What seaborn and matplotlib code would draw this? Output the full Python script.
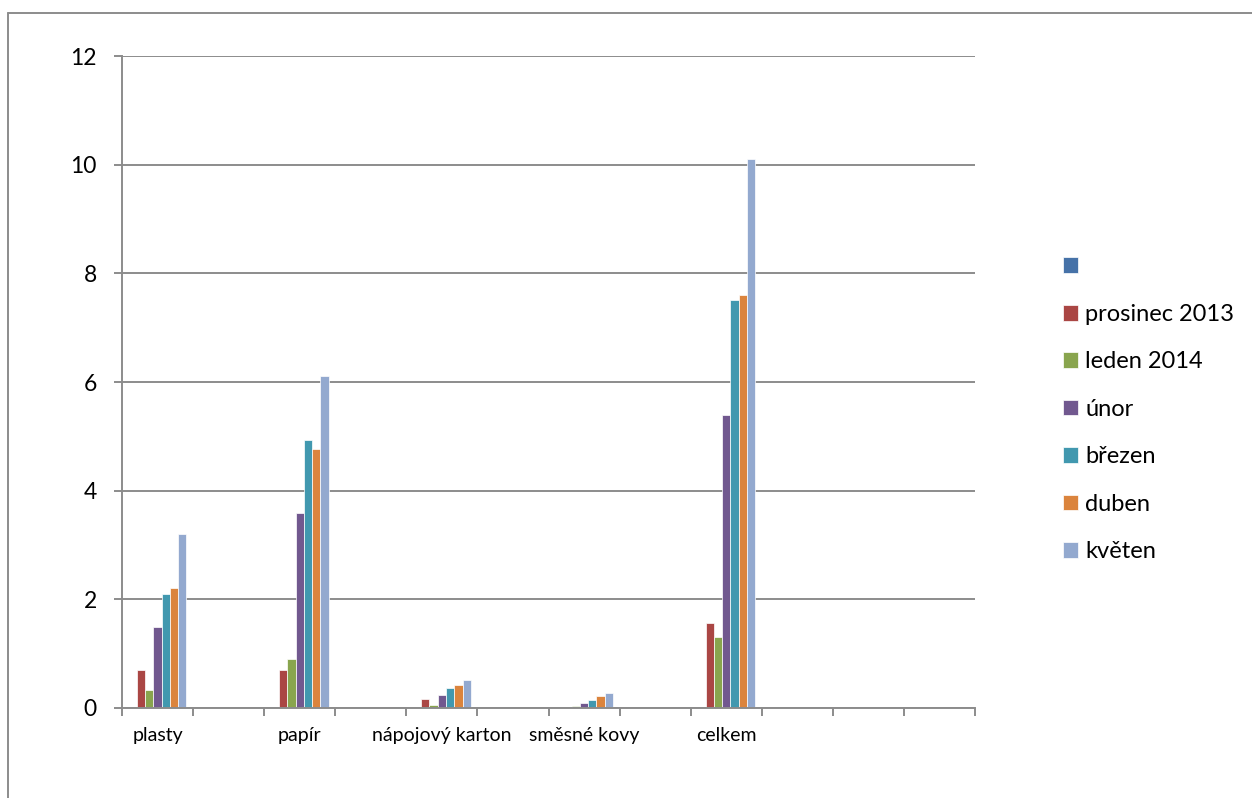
import numpy as np
import pandas as pd
import seaborn as sns
import matplotlib.pyplot as plt
from matplotlib.lines import Line2D

# categories (Excel sheet had empty rows in between)
categories = ['plasty', '', 'papír', '', 'nápojový karton', '', 'směsné kovy', '',
              'celkem', '', '', '']
series = [' ', 'prosinec 2013', 'leden 2014', 'únor', 'březen', 'duben', 'květen']

blank = [0, np.nan, 0, np.nan, 0, np.nan, 0, np.nan, 0, np.nan, np.nan, np.nan]
prosinec = [0.70, np.nan, 0.70, np.nan, 0.16, np.nan, 0.00, np.nan, 1.56, np.nan, np.nan, np.nan]
leden = [0.33, np.nan, 0.90, np.nan, 0.05, np.nan, 0.04, np.nan, 1.30, np.nan, np.nan, np.nan]
unor = [1.49, np.nan, 3.59, np.nan, 0.23, np.nan, 0.10, np.nan, 5.39, np.nan, np.nan, np.nan]
brezen = [2.09, np.nan, 4.93, np.nan, 0.37, np.nan, 0.15, np.nan, 7.51, np.nan, np.nan, np.nan]
duben = [2.21, np.nan, 4.76, np.nan, 0.43, np.nan, 0.22, np.nan, 7.60, np.nan, np.nan, np.nan]
kveten = [3.20, np.nan, 6.11, np.nan, 0.52, np.nan, 0.28, np.nan, 10.10, np.nan, np.nan, np.nan]

colors = ['#4672A8', '#AA4644', '#89A54E', '#71588F', '#4198AF', '#DB843D', '#93A9CF']

keys = ['c%d' % i for i in range(len(categories))]
rows = []
for name, vals in zip(series, [blank, prosinec, leden, unor, brezen, duben, kveten]):
    for k, v in zip(keys, vals):
        rows.append({'kat': k, 'serie': name, 'hodnota': v})
df = pd.DataFrame(rows)

sns.set_style('white')
plt.rcParams['font.family'] = ['Lato', 'DejaVu Sans']
plt.rcParams['text.color'] = 'black'
plt.rcParams['xtick.labelcolor'] = 'black'
plt.rcParams['ytick.labelcolor'] = 'black'

fig = plt.figure(figsize=(12.52, 7.98), dpi=100)
ax = fig.add_axes([0.0974, 0.1128, 0.6814, 0.817])

sns.barplot(data=df, x='kat', y='hodnota', hue='serie', order=keys, hue_order=series,
            palette=colors, width=0.815, saturation=1, ax=ax,
            edgecolor='white', linewidth=0.5)

grid_c = '#8C8C8C'
ax.set_xlim(-0.5, len(keys) - 0.5)
ax.set_ylim(0, 12)
ax.set_yticks(range(0, 13, 2))
ax.grid(axis='y', color=grid_c, linewidth=1.4)
ax.set_axisbelow(True)
ax.set_xlabel('')
ax.set_ylabel('')

for s in ['top', 'right']:
    ax.spines[s].set_visible(False)
for s in ['left', 'bottom']:
    ax.spines[s].set_color(grid_c)
    ax.spines[s].set_linewidth(1.4)

ax.set_xticks(range(len(keys)))
ax.set_xticklabels(categories, fontsize=14)
ax.set_xticks(np.arange(-0.5, len(keys), 1), minor=True)
ax.tick_params(axis='x', which='major', length=0, pad=14)
ax.tick_params(axis='x', which='minor', length=6, width=1.4, color=grid_c, direction='out', bottom=True)
ax.tick_params(axis='y', length=6, width=1.4, color=grid_c, direction='out', left=True,
               labelsize=16.5, pad=12)

handles, labels = ax.get_legend_handles_labels()
ax.legend(handles, labels, loc='center left', bbox_to_anchor=(0.849, 0.487),
          bbox_transform=fig.transFigure, frameon=False, fontsize=17,
          handlelength=0.65, handleheight=0.65, handletextpad=0.3,
          labelspacing=1.12, borderpad=0, borderaxespad=0)

# outer chart border (top and left edges visible in the crop)
fig.add_artist(Line2D([8 / 1252, 1], [1 - 13 / 798, 1 - 13 / 798], color=grid_c, linewidth=1.4,
                      transform=fig.transFigure))
fig.add_artist(Line2D([8 / 1252, 8 / 1252], [0, 1 - 13 / 798], color=grid_c, linewidth=1.4,
                      transform=fig.transFigure))

fig.savefig('out.png', dpi=100)
